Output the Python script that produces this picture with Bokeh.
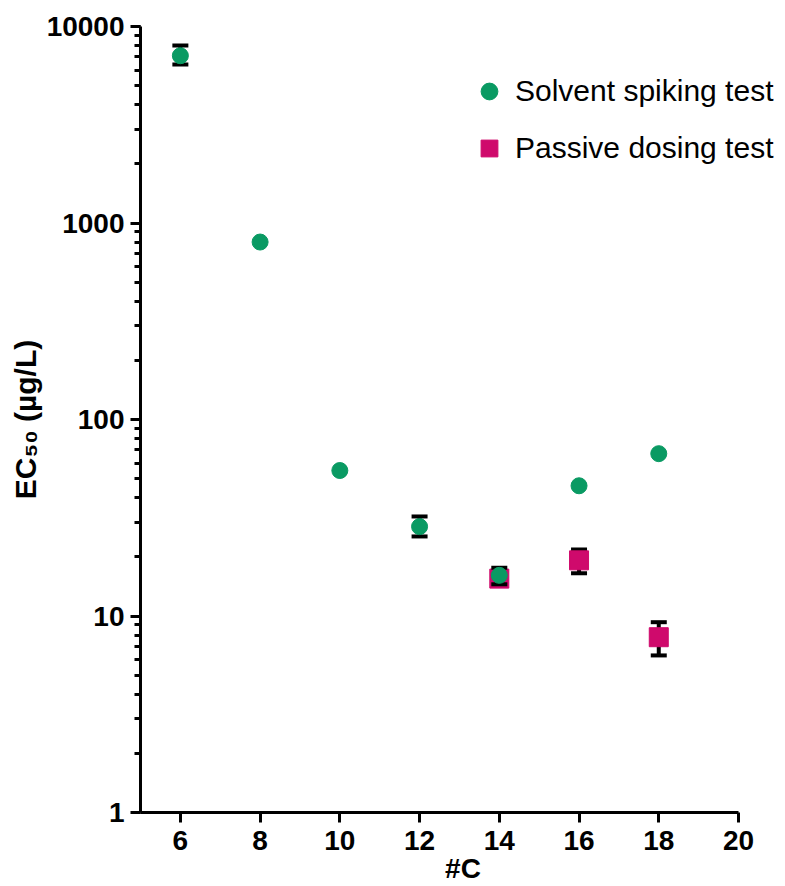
from bokeh.plotting import figure
from bokeh.models import (Range1d, FixedTicker, NumeralTickFormatter, Legend,
                          LegendItem, ColumnDataSource)
from bokeh.embed import file_html
from bokeh.resources import INLINE

# ---- data ----
carbons_solvent = [6, 8, 10, 12, 14, 16, 18]
ec50_solvent = [7100, 800, 55, 28.5, 16.1, 46, 67]
upper_solvent = [8000, None, None, 32.1, 17.6, None, None]
lower_solvent = [6400, None, None, 25.4, 14.5, None, None]

carbons_passive = [14, 16, 18]
ec50_passive = [15.5, 19.2, 7.8]
upper_passive = [16.6, 21.8, 9.3]
lower_passive = [14.6, 16.5, 6.3]

x_ticks = [6, 8, 10, 12, 14, 16, 18, 20]
series_names = ["Solvent spiking test", "Passive dosing test"]

GREEN = "#0a9a63"
MAGENTA = "#cf0a6c"
FONT = "Liberation Sans"

W, H = 785, 886
LEFT, TOP, BOTTOM = 140, 26, 74
X0, X1 = 5, 20
frame_w = W - LEFT
axis_len = 598  # pixel length of the 5..20 axis
x_end = X0 + (X1 - X0) * frame_w / axis_len  # frame extends right so the legend fits

p = figure(width=W, height=H, x_range=Range1d(X0, x_end), y_range=Range1d(1, 10000),
           y_axis_type="log", output_backend="svg", toolbar_location=None,
           min_border_left=LEFT, min_border_right=0, min_border_top=TOP,
           min_border_bottom=BOTTOM)
p.outline_line_color = None
p.grid.visible = False
p.background_fill_color = "white"
p.border_fill_color = "white"


def errbars(xs, ups, lows):
    pts = [(x, u, l) for x, u, l in zip(xs, ups, lows) if u is not None]
    src = ColumnDataSource(dict(x=[a[0] for a in pts], upper=[a[1] for a in pts],
                                lower=[a[2] for a in pts]))
    p.segment(x0="x", y0="lower", x1="x", y1="upper", source=src,
              line_width=4, line_color="black")
    p.scatter(x="x", y="upper", source=src, marker="dash", size=16,
              line_width=4, line_color="black")
    p.scatter(x="x", y="lower", source=src, marker="dash", size=16,
              line_width=4, line_color="black")


errbars(carbons_passive, upper_passive, lower_passive)
r_pass = p.scatter(x=carbons_passive, y=ec50_passive, marker="square", size=19,
                   fill_color=MAGENTA, line_color=MAGENTA)
errbars(carbons_solvent, upper_solvent, lower_solvent)
r_solv = p.scatter(x=carbons_solvent, y=ec50_solvent, marker="circle", size=16,
                   fill_color=GREEN, line_color=GREEN)

# ---- axes ----
for ax in (p.xaxis[0], p.yaxis[0]):
    ax.axis_line_width = 3
    ax.axis_line_color = "black"
    ax.major_tick_line_width = 3
    ax.major_tick_out = 10
    ax.major_tick_in = 0
    ax.minor_tick_line_width = 3
    ax.minor_tick_out = 6
    ax.minor_tick_in = 0
    ax.major_label_text_font = FONT
    ax.major_label_text_font_style = "bold"
    ax.major_label_text_color = "black"
    ax.axis_label_text_font = FONT
    ax.axis_label_text_font_style = "bold"
    ax.axis_label_text_color = "black"

p.xaxis.bounds = (X0, X1)
p.xaxis.ticker = FixedTicker(ticks=x_ticks, minor_ticks=[])
p.xaxis.major_label_text_font_size = "28px"
p.xaxis.major_label_standoff = 8
p.xaxis.axis_label = "#C"
p.xaxis.axis_label_text_font_size = "28px"
p.xaxis.axis_label_standoff = 0

p.yaxis.formatter = NumeralTickFormatter(format="0")
p.yaxis.major_label_text_font_size = "28px"
p.yaxis.major_label_standoff = 6
p.yaxis.axis_label = "EC\u2085\u2080 (µg/L)"
p.yaxis.axis_label_text_font_size = "30px"
p.yaxis.axis_label_standoff = 2

# ---- legend ----
legend = Legend(items=[LegendItem(label=series_names[0], renderers=[r_solv]),
                       LegendItem(label=series_names[1], renderers=[r_pass])],
                location=(328, 643), glyph_width=42, glyph_height=42,
                label_standoff=5, spacing=15, padding=0, margin=0,
                border_line_color=None, background_fill_alpha=0,
                label_text_font=FONT, label_text_font_size="30px",
                label_text_color="black")
p.add_layout(legend, "center")

open("out.html", "w").write(file_html(p, INLINE))
